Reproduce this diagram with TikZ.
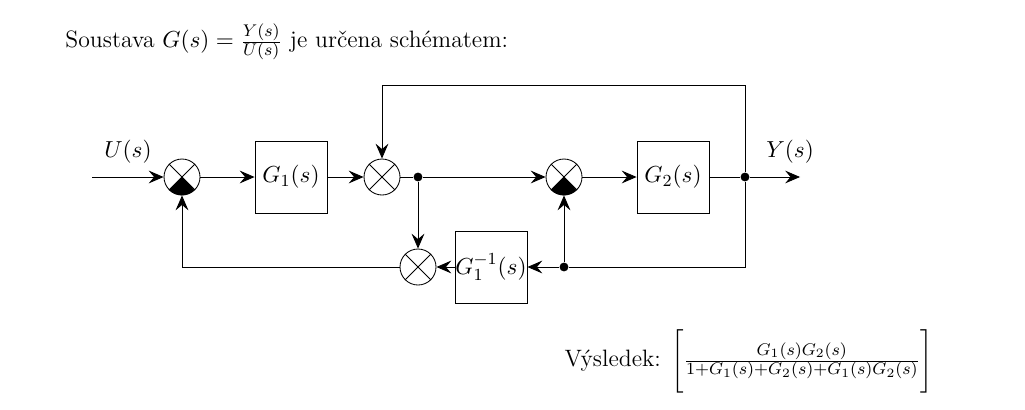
\documentclass[tikz,border=0pt]{standalone}
\usetikzlibrary{arrows.meta}
\begin{document}
\begin{tikzpicture}[x=0.0166cm,y=-0.0166cm,font=\fontsize{11.2}{13.5}\selectfont,
  blk/.style={draw,minimum width=72*0.0166cm,minimum height=72*0.0166cm,inner sep=0pt},
  sum/.style={draw,circle,minimum size=36*0.0166cm,inner sep=0pt},
  dot/.style={circle,fill,inner sep=0pt,minimum size=4.2pt},
  ar/.style={-{Stealth[length=7pt,width=6pt,inset=2.5pt]}}]
\useasboundingbox (0,0) rectangle (1025,409);
\node[anchor=west] (title) at (58,42) {Soustava $G(s)=\frac{Y(s)}{U(s)}$ je určena schématem:};
\node[sum] (s1) at (182,177) {};
\node[sum] (s2) at (382,177) {};
\node[sum] (s3) at (564,177) {};
\node[sum] (s4) at (418,267) {};
\foreach \s in {s1,s2,s3,s4}{
  \draw (\s.north west)--(\s.south east) (\s.north east)--(\s.south west);}
\foreach \s in {s1,s3}{
  \fill (\s.center)--(\s.south west) arc[start angle=225,end angle=315,radius=18*0.0166cm]--cycle;}
\node[blk] (g1) at (291,177) {$G_1(s)$};
\node[blk] (g2) at (673,177) {$G_2(s)$};
\node[blk] (gi) at (491,267) {$G_1^{-1}(s)$};
\node[dot] (d1) at (418,177) {};
\node[dot] (d2) at (745,177) {};
\node[dot] (d3) at (564,267) {};
\coordinate (in) at (92,177);
\coordinate (out) at (800,177);
\node (U) at (128,152) {$U(s)$};
\node (Y) at (790,152) {$Y(s)$};
\draw[ar] (in)--(s1);
\draw[ar] (s1)--(g1);
\draw[ar] (g1)--(s2);
\draw (s2)--(d1);
\draw[ar] (d1)--(s3);
\draw[ar] (s3)--(g2);
\draw (g2)--(d2);
\draw[ar] (d2)--(out);
\draw[ar] (d2)--(745,85)-|(s2);
\draw (d2)--(745,267)--(d3);
\draw[ar] (d3)--(gi);
\draw[ar] (gi)--(s4);
\draw[ar] (d1)--(s4);
\draw[ar] (d3)--(s3);
\draw[ar] (s4)-|(s1);
\node[anchor=east] (res) at (940,361) {Výsledek: $\Bigg[\frac{G_1(s)G_2(s)}{1+G_1(s)+G_2(s)+G_1(s)G_2(s)}\Bigg]$};
\end{tikzpicture}
\end{document}
